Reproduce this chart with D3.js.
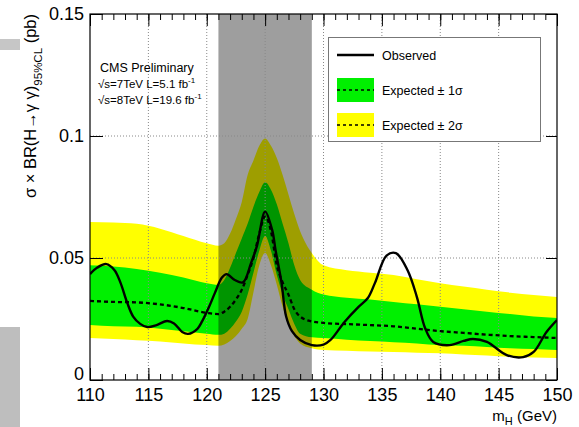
<!DOCTYPE html>
<html><head><meta charset="utf-8">
<script src="https://cdn.jsdelivr.net/npm/d3@7"></script>
<style>
html,body{margin:0;padding:0;background:#fff;}
svg text{font-family:"Liberation Sans",Arial,Helvetica,sans-serif;}
</style></head>
<body>
<svg id="chart" width="579" height="427"></svg>
<script>
// ---------------- data ----------------
const massGrid = [110,112,114,116,118,120,121,121.5,122,122.5,123,123.5,124,124.5,125,125.5,126,126.5,127,127.5,128,129,130,132,134,136,138,140,142,144,146,148,150];
const expected = [0.0324,0.032,0.0318,0.031,0.0295,0.0275,0.027,0.028,0.030,0.033,0.037,0.043,0.050,0.060,0.067,0.061,0.047,0.040,0.035,0.029,0.026,0.024,0.0234,0.0229,0.0225,0.022,0.021,0.020,0.0193,0.0186,0.018,0.0176,0.0172];
const band2Hi = [0.0648,0.0645,0.064,0.062,0.059,0.056,0.055,0.056,0.060,0.066,0.073,0.084,0.090,0.096,0.099,0.096,0.091,0.084,0.076,0.068,0.061,0.052,0.047,0.045,0.044,0.043,0.0413,0.0397,0.0383,0.037,0.0358,0.0348,0.034];
const band1Hi = [0.047,0.0465,0.0455,0.044,0.042,0.0397,0.039,0.041,0.046,0.052,0.058,0.064,0.071,0.077,0.081,0.078,0.072,0.064,0.056,0.047,0.041,0.037,0.035,0.0337,0.033,0.032,0.031,0.030,0.029,0.028,0.027,0.026,0.0254];
const band1Lo = [0.0225,0.022,0.0218,0.021,0.020,0.019,0.0185,0.019,0.021,0.024,0.028,0.035,0.044,0.053,0.059,0.053,0.043,0.035,0.029,0.023,0.019,0.0175,0.0172,0.0165,0.016,0.0155,0.015,0.0143,0.014,0.0135,0.013,0.0127,0.0123];
const band2Lo = [0.0172,0.0168,0.0163,0.0158,0.015,0.0143,0.014,0.0145,0.016,0.018,0.021,0.025,0.036,0.047,0.052,0.047,0.039,0.030,0.023,0.018,0.015,0.013,0.0123,0.012,0.0117,0.0115,0.0112,0.011,0.0105,0.010,0.0095,0.0092,0.009];

const obsMass = [110,110.6,111.4,112.1,112.6,113.2,113.7,114.3,114.9,115.7,116.6,117.2,117.9,118.4,119.2,119.6,120.2,120.7,121.3,121.7,122.4,123.1,123.8,124.3,125,125.6,125.9,126.4,126.8,127.3,128,129,130,130.6,131.8,133,133.8,134.4,135.4,136.2,137.2,138,138.7,139.4,140.8,142,142.8,144,145.7,147.1,148,149.1,150];
const observed = [0.0434,0.046,0.0475,0.045,0.040,0.0315,0.026,0.023,0.0217,0.0225,0.0242,0.0232,0.0197,0.0189,0.021,0.024,0.030,0.0357,0.042,0.0434,0.041,0.040,0.048,0.055,0.069,0.0615,0.053,0.040,0.026,0.020,0.0164,0.0143,0.0145,0.0164,0.0238,0.030,0.0336,0.0397,0.051,0.052,0.045,0.034,0.0213,0.0156,0.0143,0.016,0.0168,0.0156,0.0102,0.0094,0.0115,0.0197,0.0246];

const xTicks = [110,115,120,125,130,135,140,145,150];
const yTicks = [0,0.05,0.1,0.15];
const yTickLabels = ["0","0.05","0.1","0.15"];
const excludedRange = [121,129];
const legendLabels = ["Observed","Expected \u00b1 1\u03c3","Expected \u00b1 2\u03c3"];

// ---------------- layout ----------------
const svg = d3.select("#chart");
const L = 90, R = 557, T = 14, B = 380;
const x = d3.scaleLinear().domain([110,150]).range([L,R]);
const y = d3.scaleLinear().domain([0,0.15]).range([B,T]);

// artifacts at left edge
svg.append("rect").attr("x",0).attr("y",39).attr("width",20).attr("height",11).attr("fill","#c6c6c6");
svg.append("rect").attr("x",0).attr("y",327).attr("width",20).attr("height",100).attr("fill","#bebebe");

svg.append("defs").append("clipPath").attr("id","clip")
  .append("rect").attr("x",L).attr("y",T).attr("width",R-L).attr("height",B-T);
const g = svg.append("g").attr("clip-path","url(#clip)");

const idx = d3.range(massGrid.length);
const area = (lo,hi)=>d3.area().curve(d3.curveMonotoneX)
  .x(i=>x(massGrid[i])).y0(i=>y(lo[i])).y1(i=>y(hi[i]));
g.append("path").datum(idx).attr("d",area(band2Lo,band2Hi)).attr("fill","#ffff00");
g.append("path").datum(idx).attr("d",area(band1Lo,band1Hi)).attr("fill","#00f000");

// excluded grey band
g.append("rect").attr("x",x(excludedRange[0])).attr("y",T)
  .attr("width",x(excludedRange[1])-x(excludedRange[0])).attr("height",B-T)
  .attr("fill","#000").attr("fill-opacity",0.38);

// grid
xTicks.slice(1,-1).forEach(v=>{
  g.append("line").attr("x1",x(v)).attr("x2",x(v)).attr("y1",T).attr("y2",B)
   .attr("stroke","#888").attr("stroke-width",1).attr("stroke-dasharray","1,2");
});
yTicks.slice(1,-1).forEach(v=>{
  g.append("line").attr("x1",L).attr("x2",R).attr("y1",y(v)).attr("y2",y(v))
   .attr("stroke","#888").attr("stroke-width",1).attr("stroke-dasharray","1,2");
});

// expected
g.append("path").datum(idx)
  .attr("d",d3.line().curve(d3.curveMonotoneX).x(i=>x(massGrid[i])).y(i=>y(expected[i])))
  .attr("fill","none").attr("stroke","#000").attr("stroke-width",2.3).attr("stroke-dasharray","4,3");
// observed
g.append("path").datum(d3.range(obsMass.length))
  .attr("d",d3.line().curve(d3.curveCatmullRom.alpha(0.5)).x(i=>x(obsMass[i])).y(i=>y(observed[i])))
  .attr("fill","none").attr("stroke","#000").attr("stroke-width",2.4).attr("stroke-linejoin","round");

// frame
svg.append("rect").attr("x",L).attr("y",T).attr("width",R-L).attr("height",B-T)
  .attr("fill","none").attr("stroke","#000").attr("stroke-width",1.2);

// x axis (bottom, ticks inward) and top ticks
const xMinor = d3.range(110,151,1);
const axB = d3.axisBottom(x).tickValues(xMinor).tickSize(-6).tickFormat("");
const axT = d3.axisTop(x).tickValues(xMinor).tickSize(-6).tickFormat("");
svg.append("g").attr("transform",`translate(0,${B})`).call(axB).call(a=>a.select(".domain").remove());
svg.append("g").attr("transform",`translate(0,${T})`).call(axT).call(a=>a.select(".domain").remove());
const axBM = d3.axisBottom(x).tickValues(xTicks).tickSize(-12).tickPadding(16).tickFormat(d3.format("d"));
svg.append("g").attr("transform",`translate(0,${B})`).call(axBM)
  .call(a=>a.select(".domain").remove())
  .call(a=>a.selectAll("text").attr("font-size",18).attr("fill","#000").attr("dy","0.3em"));
svg.append("g").attr("transform",`translate(0,${T})`)
  .call(d3.axisTop(x).tickValues(xTicks).tickSize(-12).tickFormat(""))
  .call(a=>a.select(".domain").remove());

// y axis
const axL = d3.axisLeft(y).tickValues(yTicks).tickSize(-13).tickPadding(6).tickFormat((d,i)=>yTickLabels[i]);
svg.append("g").attr("transform",`translate(${L},0)`).call(axL)
  .call(a=>a.select(".domain").remove())
  .call(a=>a.selectAll("text").attr("font-size",18).attr("fill","#000"))
  .call(a=>a.selectAll(".tick").filter(d=>d===0).select("text").attr("dy","-0.05em"));
svg.append("g").attr("transform",`translate(${R},0)`)
  .call(d3.axisRight(y).tickValues(yTicks).tickSize(-11).tickFormat(""))
  .call(a=>a.select(".domain").remove());
svg.selectAll(".tick line").attr("stroke","#000");

// axis titles
const xt = svg.append("text").attr("x",R).attr("y",421).attr("text-anchor","end").attr("font-size",15);
xt.append("tspan").text("m");
xt.append("tspan").attr("font-size",11).attr("dy",4).text("H");
xt.append("tspan").attr("dy",-4).text(" (GeV)");

const yt = svg.append("text").attr("transform","translate(36,14) rotate(-90)").attr("text-anchor","end").attr("font-size",16.5);
yt.append("tspan").text("\u03c3 \u00d7 BR(H\u2192\u03b3 \u03b3)");
yt.append("tspan").attr("font-size",11.5).attr("dy",6).text("95%CL");
yt.append("tspan").attr("dy",-6).text(" (pb)");

// CMS label
svg.append("text").attr("x",100).attr("y",72).attr("font-size",12.5).text("CMS Preliminary");
const l1 = svg.append("text").attr("x",98).attr("y",88).attr("font-size",11.5);
l1.append("tspan").text("\u221as=7TeV L=5.1 fb");
l1.append("tspan").attr("font-size",8).attr("dy",-5).text("-1");
const l2 = svg.append("text").attr("x",98).attr("y",104).attr("font-size",11.5);
l2.append("tspan").text("\u221as=8TeV L=19.6 fb");
l2.append("tspan").attr("font-size",8).attr("dy",-5).text("-1");

// legend
const lg = svg.append("g");
lg.append("rect").attr("x",328.5).attr("y",37.5).attr("width",212).attr("height",104)
  .attr("fill","#fff").attr("stroke","#777").attr("stroke-width",1);
const rowsY = [55,90,125];
lg.append("line").attr("x1",337).attr("x2",374).attr("y1",rowsY[0]).attr("y2",rowsY[0]).attr("stroke","#000").attr("stroke-width",2.4);
lg.append("rect").attr("x",337).attr("y",rowsY[1]-12).attr("width",37).attr("height",24).attr("fill","#00f000");
lg.append("rect").attr("x",337).attr("y",rowsY[2]-12).attr("width",37).attr("height",24).attr("fill","#ffff00");
[1,2].forEach(k=>lg.append("line").attr("x1",337).attr("x2",374).attr("y1",rowsY[k]).attr("y2",rowsY[k])
  .attr("stroke","#000").attr("stroke-width",1.5).attr("stroke-dasharray","3,3"));
legendLabels.forEach((t,k)=>lg.append("text").attr("x",382).attr("y",rowsY[k]+4.5).attr("font-size",12.5).text(t));
</script>
</body></html>
